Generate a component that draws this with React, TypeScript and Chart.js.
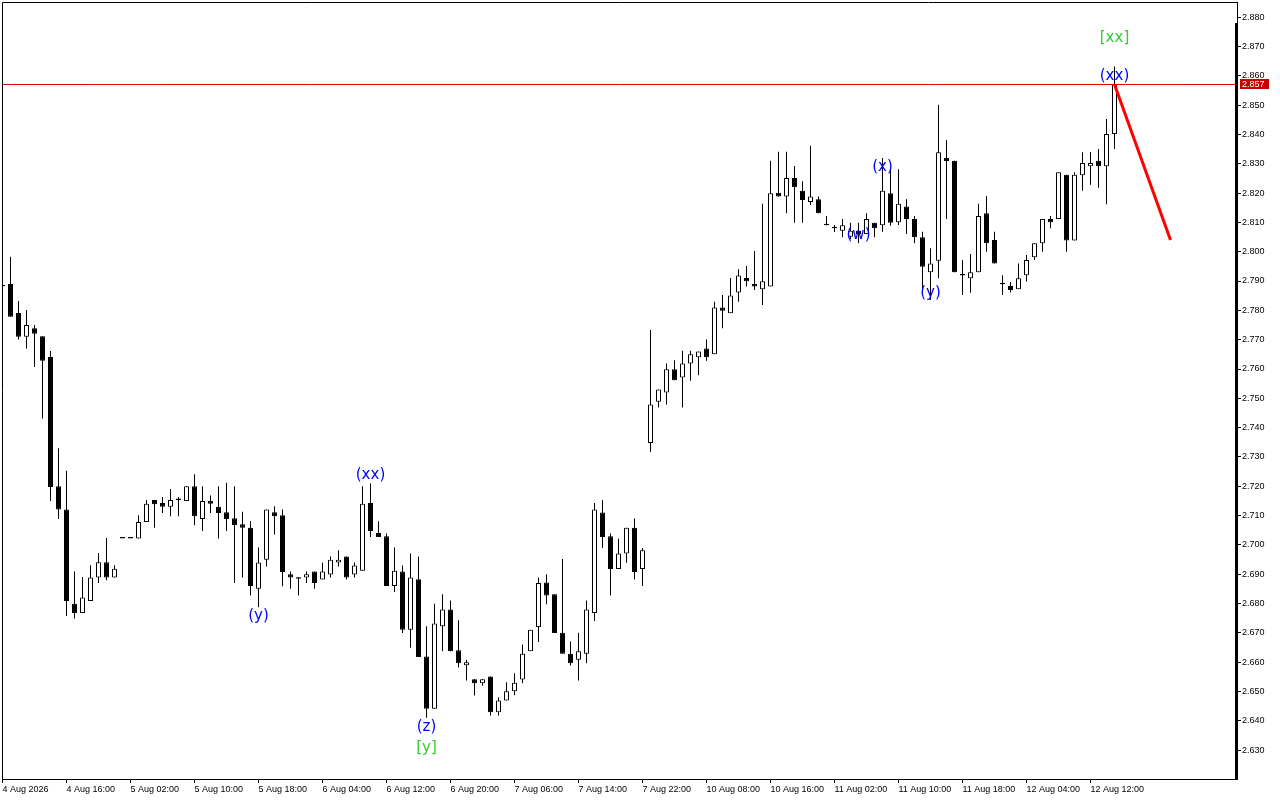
import { useEffect, useRef } from "react"
import { Chart, registerables } from "chart.js"

Chart.register(...registerables)

// H1 candles, index 0 is the bar cut by the left edge
const opens = [
  2.7882, 2.789, 2.7791, 2.771, 2.7739, 2.7712, 2.7641, 2.72, 2.7121, 2.68,
  2.6768, 2.6809, 2.6889, 2.6941, 2.6889, 2.7022, 2.7022, 2.7022, 2.7078, 2.7153,
  2.7143, 2.713, 2.7153, 2.715, 2.72, 2.7089, 2.715, 2.713, 2.7112, 2.7091,
  2.7071, 2.7059, 2.6851, 2.695, 2.7112, 2.7101, 2.69, 2.6885, 2.6889, 2.691,
  2.6882, 2.6899, 2.694, 2.6961, 2.6899, 2.6912, 2.7143, 2.7041, 2.703, 2.686,
  2.691, 2.6711, 2.6883, 2.662, 2.6442, 2.6723, 2.678, 2.6641, 2.659, 2.6542,
  2.6529, 2.6552, 2.643, 2.647, 2.6501, 2.6541, 2.6638, 2.672, 2.6872, 2.6832,
  2.6701, 2.6629, 2.6609, 2.6629, 2.6768, 2.7111, 2.703, 2.6918, 2.6971, 2.7059,
  2.6918, 2.7348, 2.7488, 2.752, 2.7599, 2.7571, 2.7619, 2.764, 2.767, 2.765,
  2.781, 2.779, 2.7861, 2.791, 2.789, 2.7872, 2.7881, 2.8201, 2.8188, 2.8251,
  2.8208, 2.8169, 2.8179, 2.809, 2.808, 2.8071, 2.8051, 2.8071, 2.806, 2.8099,
  2.809, 2.8199, 2.81, 2.8154, 2.8111, 2.8049, 2.793, 2.7969, 2.8319, 2.831,
  2.7919, 2.7909, 2.793, 2.8131, 2.804, 2.7889, 2.7883, 2.7872, 2.792, 2.7981,
  2.8029, 2.8111, 2.8111, 2.8262, 2.8038, 2.8261, 2.8291, 2.831, 2.8291, 2.8401,
]
const highs = [
  2.7882, 2.7983, 2.7832, 2.7801, 2.775, 2.7712, 2.7661, 2.733, 2.7253, 2.691,
  2.6891, 2.6931, 2.6973, 2.7024, 2.6931, 2.7022, 2.7022, 2.7101, 2.7153, 2.7153,
  2.7164, 2.7191, 2.7164, 2.72, 2.7241, 2.72, 2.7169, 2.72, 2.7212, 2.72,
  2.7113, 2.7082, 2.6991, 2.7121, 2.7132, 2.7121, 2.691, 2.6891, 2.691, 2.691,
  2.694, 2.6961, 2.6982, 2.6961, 2.694, 2.72, 2.721, 2.7081, 2.7039, 2.6991,
  2.693, 2.6971, 2.6961, 2.6723, 2.68, 2.6832, 2.6811, 2.6743, 2.6609, 2.6542,
  2.6542, 2.6552, 2.6481, 2.6532, 2.6563, 2.6661, 2.6711, 2.6889, 2.69, 2.6832,
  2.6952, 2.6671, 2.6701, 2.6811, 2.7143, 2.7153, 2.7039, 2.7022, 2.7059, 2.709,
  2.699, 2.7733, 2.753, 2.7619, 2.763, 2.7662, 2.7662, 2.766, 2.7701, 2.7829,
  2.7852, 2.791, 2.794, 2.7951, 2.8002, 2.8163, 2.831, 2.8341, 2.8341, 2.8292,
  2.824, 2.8361, 2.8188, 2.8122, 2.8091, 2.8111, 2.8099, 2.8099, 2.8131, 2.8099,
  2.8319, 2.8279, 2.8281, 2.8179, 2.8122, 2.8068, 2.8012, 2.8501, 2.8381, 2.831,
  2.7972, 2.7992, 2.8163, 2.819, 2.8068, 2.792, 2.7897, 2.796, 2.7989, 2.8029,
  2.8111, 2.8122, 2.8271, 2.8262, 2.8271, 2.8339, 2.834, 2.835, 2.8452, 2.8631,
]
const lows = [
  2.7882, 2.7778, 2.7701, 2.767, 2.7607, 2.7431, 2.715, 2.7089, 2.6758, 2.6749,
  2.6768, 2.6809, 2.687, 2.688, 2.6889, 2.7022, 2.7022, 2.7022, 2.7078, 2.7059,
  2.7109, 2.7098, 2.7098, 2.715, 2.7067, 2.7048, 2.7109, 2.7022, 2.7048, 2.687,
  2.6889, 2.6828, 2.6788, 2.6927, 2.7036, 2.6859, 2.6851, 2.6828, 2.687, 2.6851,
  2.6882, 2.6889, 2.6927, 2.6882, 2.6889, 2.6912, 2.7027, 2.7027, 2.686, 2.684,
  2.67, 2.665, 2.6618, 2.6411, 2.6442, 2.6638, 2.6638, 2.6582, 2.6538, 2.6487,
  2.652, 2.6419, 2.6419, 2.647, 2.6488, 2.6529, 2.6638, 2.6669, 2.6798, 2.67,
  2.6629, 2.6589, 2.6538, 2.6597, 2.6741, 2.699, 2.6828, 2.6918, 2.6939, 2.6882,
  2.686, 2.7317, 2.7469, 2.7479, 2.7562, 2.7469, 2.756, 2.7579, 2.7628, 2.765,
  2.7739, 2.779, 2.7829, 2.7881, 2.7869, 2.7818, 2.7881, 2.8188, 2.8131, 2.8099,
  2.8099, 2.8159, 2.8131, 2.809, 2.8067, 2.8049, 2.8042, 2.8029, 2.806, 2.8049,
  2.8068, 2.8088, 2.8091, 2.806, 2.8029, 2.7858, 2.7835, 2.7909, 2.8111, 2.793,
  2.7852, 2.786, 2.793, 2.8, 2.796, 2.7852, 2.7861, 2.7872, 2.7898, 2.7972,
  2.8, 2.808, 2.8111, 2.8, 2.8038, 2.8208, 2.8228, 2.8218, 2.8162, 2.835,
]
const closes = [
  2.7882, 2.7778, 2.771, 2.775, 2.772, 2.7628, 2.7198, 2.7121, 2.6809, 2.6768,
  2.6821, 2.6889, 2.6941, 2.6889, 2.6919, 2.7022, 2.7022, 2.7078, 2.7141, 2.7139,
  2.713, 2.7153, 2.7153, 2.72, 2.7098, 2.715, 2.7141, 2.7109, 2.7089, 2.7068,
  2.7059, 2.686, 2.694, 2.7121, 2.7098, 2.6908, 2.6889, 2.6885, 2.69, 2.687,
  2.691, 2.695, 2.695, 2.6889, 2.693, 2.7141, 2.7048, 2.7027, 2.686, 2.6912,
  2.6711, 2.6889, 2.6618, 2.6442, 2.6732, 2.678, 2.6638, 2.6597, 2.66, 2.6529,
  2.6542, 2.643, 2.647, 2.6501, 2.653, 2.6629, 2.6711, 2.687, 2.6828, 2.67,
  2.6629, 2.6597, 2.6638, 2.678, 2.7121, 2.7027, 2.6918, 2.6971, 2.7059, 2.6908,
  2.6982, 2.7479, 2.753, 2.7599, 2.7562, 2.7619, 2.765, 2.766, 2.764, 2.781,
  2.7799, 2.7851, 2.7919, 2.7899, 2.7881, 2.7899, 2.8199, 2.8188, 2.8251, 2.822,
  2.8176, 2.8188, 2.8131, 2.809, 2.808, 2.809, 2.8071, 2.806, 2.8111, 2.808,
  2.8208, 2.8099, 2.8163, 2.8111, 2.8049, 2.7949, 2.796, 2.8339, 2.8309, 2.793,
  2.7919, 2.793, 2.8122, 2.8029, 2.796, 2.7889, 2.7869, 2.7909, 2.7972, 2.8029,
  2.8111, 2.81, 2.8271, 2.8038, 2.8262, 2.8302, 2.8302, 2.8291, 2.8401, 2.8572,
]

const xTickIdx = [0, 8, 16, 24, 32, 40, 48, 56, 64, 72, 80, 88, 96, 104, 112, 120, 128, 136]
const xTickLabels = [
  "4 Aug 2026", "4 Aug 16:00", "5 Aug 02:00", "5 Aug 10:00", "5 Aug 18:00", "6 Aug 04:00",
  "6 Aug 12:00", "6 Aug 20:00", "7 Aug 06:00", "7 Aug 14:00", "7 Aug 22:00", "10 Aug 08:00",
  "10 Aug 16:00", "11 Aug 02:00", "11 Aug 10:00", "11 Aug 18:00", "12 Aug 04:00", "12 Aug 12:00",
]
const yTicks = [
  2.63, 2.64, 2.65, 2.66, 2.67, 2.68, 2.69, 2.7, 2.71, 2.72, 2.73, 2.74, 2.75,
  2.76, 2.77, 2.78, 2.79, 2.8, 2.81, 2.82, 2.83, 2.84, 2.85, 2.86, 2.87, 2.88,
]

const currentPrice = 2.857
const forecastIdx = [139, 146]
const forecastPrice = [2.857, 2.804]

const waveText = ["(y)", "(xx)", "(z)", "[y]", "(w)", "(x)", "(y)", "(xx)", "[xx]"]
const waveIdx = [32, 46, 53, 53, 107, 110, 116, 139, 139]
const wavePrice = [2.6757, 2.7238, 2.6378, 2.6309, 2.8057, 2.8289, 2.7859, 2.86, 2.8729]
const waveColor = ["#0000ff", "#0000ff", "#0000ff", "#32cd32", "#0000ff", "#0000ff", "#0000ff", "#0000ff", "#32cd32"]

// 8px per bar, 29.33px per 0.01
const X_MIN = -0.0625
const X_MAX = 154.3125
const Y_MAX = 2.885128
const Y_MIN = 2.620212

const tickFont = { family: "'Liberation Sans', Arial, sans-serif", size: 9 }

const overlayPlugin = {
  id: "overlay",
  afterDatasetsDraw(chart: any) {
    const { ctx, chartArea, scales } = chart
    ctx.save()
    ctx.strokeStyle = "#000"
    ctx.lineWidth = 1
    ctx.beginPath()
    ctx.moveTo(chartArea.left + 0.5, chartArea.bottom)
    ctx.lineTo(chartArea.left + 0.5, chartArea.top + 0.5)
    ctx.lineTo(chartArea.right, chartArea.top + 0.5)
    ctx.stroke()
    // thick part of the right edge
    ctx.fillStyle = "#000"
    ctx.fillRect(chartArea.right - 2, chartArea.top + 21, 3, chartArea.bottom - chartArea.top - 21)

    ctx.font = "15px 'DejaVu Sans'"
    ctx.textAlign = "center"
    ctx.textBaseline = "middle"
    waveText.forEach((t, i) => {
      ctx.fillStyle = waveColor[i]
      ctx.fillText(t, scales.x.getPixelForValue(waveIdx[i]), scales.y.getPixelForValue(wavePrice[i]))
    })
    ctx.restore()
  },
  afterDraw(chart: any) {
    const { ctx, chartArea, scales } = chart
    const py = scales.y.getPixelForValue(currentPrice)
    ctx.save()
    ctx.fillStyle = "#cc0000"
    ctx.fillRect(chartArea.right + 3, Math.round(py) - 5, 29, 10)
    ctx.fillStyle = "#fff"
    ctx.font = "9px 'Liberation Sans'"
    ctx.textAlign = "left"
    ctx.textBaseline = "middle"
    ctx.fillText(currentPrice.toFixed(3), chartArea.right + 5, py)
    ctx.restore()
  },
}

export default function App() {
  const chartRef = useRef<HTMLCanvasElement>(null)
  const chartInstance = useRef<Chart | null>(null)

  useEffect(() => {
    document.body.style.margin = "0"
    document.body.style.overflow = "hidden"
    if (!chartRef.current) return

    if (chartInstance.current) {
      chartInstance.current.destroy()
    }

    const ctx = chartRef.current.getContext("2d")
    if (!ctx) return

    const idx = opens.map((_, i) => i)
    const bodyColors = idx.map((i) => (closes[i] > opens[i] ? "#ffffff" : "#000000"))

    chartInstance.current = new Chart(ctx, {
      type: "bar",
      data: {
        datasets: [
          {
            type: "line",
            label: "Bid",
            data: [
              { x: X_MIN, y: currentPrice },
              { x: X_MAX, y: currentPrice },
            ],
            borderColor: "#dd0000",
            borderWidth: 1,
            pointRadius: 0,
            order: -2,
          },
          {
            type: "line",
            label: "Forecast",
            data: forecastIdx.map((x, i) => ({ x, y: forecastPrice[i] })),
            borderColor: "#ff0000",
            borderWidth: 3,
            pointRadius: 0,
            order: -1,
          },
          {
            label: "Body",
            data: idx.map((i) => ({ x: i, y: [Math.min(opens[i], closes[i]), Math.max(opens[i], closes[i])] })),
            backgroundColor: bodyColors,
            borderColor: "#000000",
            borderWidth: 1,
            borderSkipped: false,
            barThickness: 5,
            minBarLength: 1.5,
            inflateAmount: 0,
            grouped: false,
            order: 0,
          },
          {
            label: "Wick",
            data: idx.map((i) => ({ x: i, y: [lows[i], highs[i]] })),
            backgroundColor: "#000000",
            borderWidth: 0,
            barThickness: 1,
            inflateAmount: 0,
            grouped: false,
            order: 1,
          },
        ] as any,
      },
      options: {
        animation: false,
        responsive: false,
        devicePixelRatio: 1,
        events: [],
        layout: { padding: { left: 2, top: 2, right: 0, bottom: 0 } },
        plugins: {
          legend: { display: false },
          tooltip: { enabled: false },
        },
        scales: {
          x: {
            type: "linear",
            min: X_MIN,
            max: X_MAX,
            offset: false,
            afterBuildTicks: (axis: any) => {
              axis.ticks = xTickIdx.map((v) => ({ value: v }))
            },
            afterFit: (s: any) => {
              s.height = 21
              s.paddingLeft = 0
              s.paddingRight = 0
            },
            ticks: {
              callback: (_v: any, i: number) => xTickLabels[i],
              align: "start",
              autoSkip: false,
              maxRotation: 0,
              minRotation: 0,
              padding: 1,
              color: "#000",
              font: tickFont,
            },
            grid: { offset: false, drawOnChartArea: false, drawTicks: true, tickLength: 4, color: "#000" },
            border: { color: "#000", width: 1 },
          },
          y: {
            type: "linear",
            position: "right",
            min: Y_MIN,
            max: Y_MAX,
            afterBuildTicks: (axis: any) => {
              axis.ticks = yTicks.map((v) => ({ value: v }))
            },
            afterFit: (s: any) => {
              s.width = 43
              s.paddingTop = 0
              s.paddingBottom = 0
            },
            ticks: {
              callback: (v: any) => Number(v).toFixed(3),
              padding: 1,
              color: "#000",
              font: tickFont,
            },
            grid: { offset: false, drawOnChartArea: false, drawTicks: true, tickLength: 4, color: "#000" },
            border: { color: "#000", width: 1 },
          },
        },
      } as any,
      plugins: [overlayPlugin],
    })

    return () => {
      if (chartInstance.current) {
        chartInstance.current.destroy()
        chartInstance.current = null
      }
    }
  }, [])

  return (
    <div style={{ width: 1280, height: 800, background: "#fff" }}>
      <canvas ref={chartRef} width={1280} height={800} />
    </div>
  )
}
